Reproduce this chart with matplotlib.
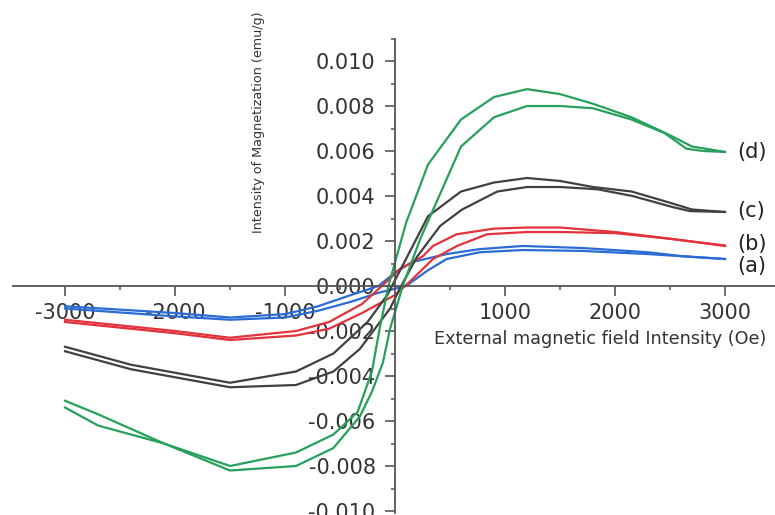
"""
    M-H hysteresis loops (a)-(d)
"""
import matplotlib
matplotlib.use("Agg")
import matplotlib.pyplot as plt
from matplotlib.ticker import FixedLocator, MultipleLocator, FormatStrFormatter

plt.rcParams['font.family'] = ['DejaVu Sans']
plt.rcParams['axes.unicode_minus'] = False

# Sample (a), blue: descending branch (+3000 -> -3000) and ascending branch
a_down_H = [3000, 2600, 2300, 1700, 1160, 770, 470, 160, 0, -150, -400, -700, -1000, -1500, -2000, -3000]
a_down_M = [0.0012, 0.00133, 0.0015, 0.00169, 0.00178, 0.00164, 0.00142, 0.00107, 0.0006, 0.0,
            -0.0004, -0.0009, -0.00125, -0.0014, -0.0012, -0.0009]
a_up_H = [-3000, -2000, -1500, -1000, -700, -400, -150, 100, 300, 470, 770, 1160, 1700, 2300, 3000]
a_up_M = [-0.0010, -0.00135, -0.0015, -0.0014, -0.0011, -0.0007, -0.0003, 0.0, 0.0007, 0.0012,
          0.0015, 0.0016, 0.00156, 0.00142, 0.0012]

# Sample (b), red
b_down_H = [3000, 2500, 2000, 1500, 1200, 900, 560, 345, 255, 45, -120, -300, -600, -900, -1500, -2000, -3000]
b_down_M = [0.0018, 0.0021, 0.0024, 0.0026, 0.0026, 0.00255, 0.0023, 0.00178, 0.00133, 0.00076, 0.0,
            -0.0008, -0.0016, -0.0020, -0.0023, -0.0020, -0.0015]
b_up_H = [-3000, -2000, -1500, -900, -600, -300, 0, 136, 345, 564, 836, 1200, 1500, 2000, 2500, 3000]
b_up_M = [-0.0016, -0.0021, -0.0024, -0.0022, -0.0019, -0.0012, -0.0004, 0.0002, 0.0012, 0.00178,
          0.0023, 0.0024, 0.0024, 0.00235, 0.0021, 0.00178]

# Sample (c), black
c_down_H = [3000, 2700, 2500, 2150, 1800, 1500, 1200, 900, 600, 300, 100, -70, -250, -560, -900, -1500, -2400, -3000]
c_down_M = [0.00329, 0.0034, 0.0037, 0.0042, 0.0044, 0.00467, 0.0048, 0.0046, 0.0042, 0.0031, 0.0012,
            -0.0004, -0.0016, -0.0030, -0.0038, -0.0043, -0.0035, -0.0027]
c_up_H = [-3000, -2400, -1500, -900, -560, -320, -45, 45, 200, 410, 610, 930, 1200, 1500, 1840, 2160, 2530, 2680, 3000]
c_up_M = [-0.0029, -0.0037, -0.0045, -0.0044, -0.0038, -0.0028, -0.0010, -0.0001, 0.0013, 0.00267,
          0.0034, 0.0042, 0.0044, 0.0044, 0.0043, 0.0040, 0.0035, 0.00333, 0.00329]

# Sample (d), green
d_down_H = [3000, 2700, 2500, 2150, 1800, 1500, 1200, 900, 600, 300, 100, -60, -140, -210, -340, -560,
            -900, -1500, -2100, -2700, -3000]
d_down_M = [0.00596, 0.0062, 0.0067, 0.0075, 0.0081, 0.00853, 0.00875, 0.0084, 0.0074, 0.0054, 0.0028,
            0.0, -0.0019, -0.0038, -0.0056, -0.0066, -0.0074, -0.0080, -0.0070, -0.0062, -0.0054]
d_up_H = [-3000, -2700, -2100, -1500, -900, -560, -320, -210, -110, -45, 70, 230, 600, 900, 1200, 1500,
          1800, 2150, 2450, 2650, 2800, 3000]
d_up_M = [-0.0051, -0.0057, -0.0070, -0.0082, -0.0080, -0.0072, -0.0058, -0.0047, -0.0034, -0.0019, 0.0,
          0.0021, 0.0062, 0.0075, 0.0080, 0.0080, 0.0079, 0.0074, 0.0068, 0.0061, 0.0060, 0.00596]

sample_names = ["(a)", "(b)", "(c)", "(d)"]
label_M = [0.00089, 0.00187, 0.00333, 0.00596]
colors = ["#2b6cd4", "#e2323c", "#404040", "#27a05c"]

loops = [
    (a_down_H, a_down_M, a_up_H, a_up_M),
    (b_down_H, b_down_M, b_up_H, b_up_M),
    (c_down_H, c_down_M, c_up_H, c_up_M),
    (d_down_H, d_down_M, d_up_H, d_up_M),
]

fig = plt.figure(figsize=(7.75, 5.15), dpi=100)
ax = fig.add_axes([0.0172, 0.0034, 0.985, 0.9218])

for (hd, md, hu, mu), col in zip(loops, colors):
    ax.plot(hd, md, color=col, lw=1.6)
    ax.plot(hu, mu, color=col, lw=1.6)

for name, m in zip(sample_names, label_M):
    ax.text(3110, m, name, fontsize=15, color="#222222", ha="left", va="center")

ax.set_xlim(-3470, 3470)
ax.set_ylim(-0.0101, 0.011)

# axes crossing at the origin
ax.spines['left'].set_position(('data', 0))
ax.spines['bottom'].set_position(('data', 0))
ax.spines['top'].set_visible(False)
ax.spines['right'].set_visible(False)
for s in ['left', 'bottom']:
    ax.spines[s].set_color("#555555")
    ax.spines[s].set_linewidth(1.3)

ax.xaxis.set_major_locator(FixedLocator([-3000, -2000, -1000, 1000, 2000, 3000]))
ax.xaxis.set_minor_locator(MultipleLocator(500))
ax.yaxis.set_major_locator(MultipleLocator(0.002))
ax.yaxis.set_minor_locator(MultipleLocator(0.001))
ax.yaxis.set_major_formatter(FormatStrFormatter('%.3f'))

ax.tick_params(axis='both', which='major', direction='out', length=7, width=1.2,
               color="#555555", labelsize=15, labelcolor="#333333")
ax.tick_params(axis='x', which='major', pad=5)
ax.tick_params(axis='y', which='major', pad=7)
ax.tick_params(axis='both', which='minor', direction='out', length=3, width=1.1, color="#555555")

ax.text(1864, -0.00236, "External magnetic field Intensity (Oe)", fontsize=12.7,
        color="#333333", ha="center", va="center")
ax.text(-1245, 0.00729, "Intensity of Magnetization (emu/g)", fontsize=9.2,
        color="#333333", ha="center", va="center", rotation=90)

plt.savefig("out.png", dpi=100)
